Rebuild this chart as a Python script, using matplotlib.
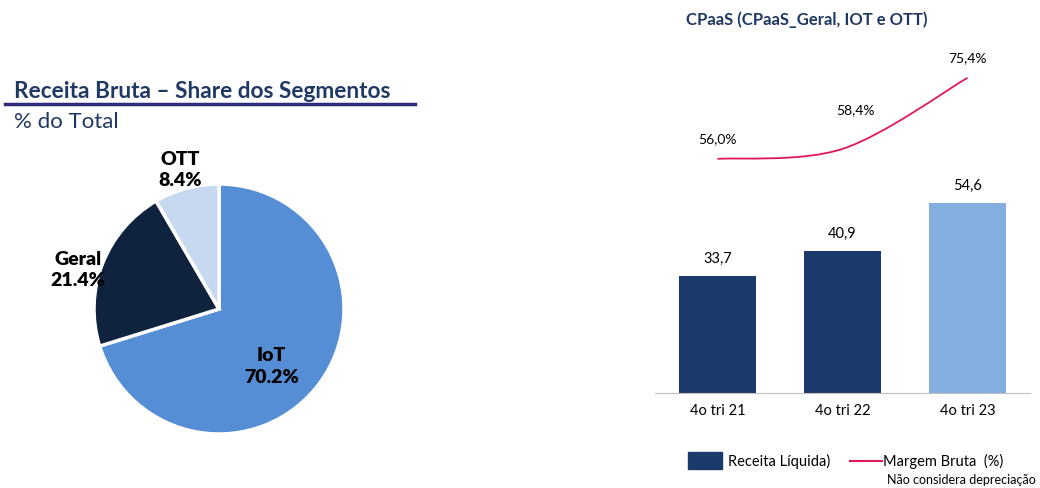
import matplotlib.pyplot as plt
from matplotlib.path import Path
from matplotlib.patches import PathPatch, Rectangle
from matplotlib.lines import Line2D

plt.rcParams['font.family'] = ['Lato', 'DejaVu Sans']

# dados do gráfico de pizza
segmentos = ['IoT', 'Geral', 'OTT']
share = [70.2, 21.4, 8.4]
share_labels = ['70.2%', '21.4%', '8.4%']

# dados do gráfico de barras + linha
trimestres = ['4o tri 21', '4o tri 22', '4o tri 23']
receita_liquida = [33.7, 40.9, 54.6]
receita_labels = ['33,7', '40,9', '54,6']
margem_bruta = [56.0, 58.4, 75.4]
margem_labels = ['56,0%', '58,4%', '75,4%']

AZUL_TITULO = '#1F3864'
cores_pizza = ['#558ED5', '#0F233F', '#C6D9F1']
cores_barras = ['#1B3A6B', '#1B3A6B', '#84ADE0']
COR_LINHA = '#E0185A'

fig = plt.figure(figsize=(10.4, 4.88), dpi=100)

# ---- título da esquerda ----
fig.text(14 / 1040, 1 - 92 / 488, 'Receita Bruta – Share dos Segmentos', fontsize=16.3,
         fontweight='bold', color=AZUL_TITULO, va='center', ha='left')
fig.add_artist(Line2D([5 / 1040, 415 / 1040], [1 - 104 / 488] * 2, color='#2E2A7A', lw=2.5))
fig.text(14 / 1040, 1 - 122 / 488, '% do Total', fontsize=16, color=AZUL_TITULO,
         va='center', ha='left')

# ---- pizza ----
ax_pie = fig.add_axes([94 / 1040, 54 / 488, 250 / 1040, 250 / 488])
ax_pie.pie(share, colors=cores_pizza, startangle=90, counterclock=False,
           wedgeprops=dict(edgecolor='white', linewidth=2.5))
ax_pie.set_xlim(-1, 1)
ax_pie.set_ylim(-1, 1)
pos_labels = [(0.42, -0.46), (-1.13, 0.31), (-0.31, 1.11)]
for nome, lab, (x, y) in zip(segmentos, share_labels, pos_labels):
    ax_pie.text(x, y, f'{nome}\n{lab}', ha='center', va='center', fontsize=14,
                fontweight='heavy', color='black', linespacing=1.3)

# ---- barras ----
fig.text(686 / 1040, 1 - 20 / 488, 'CPaaS (CPaaS_Geral, IOT e OTT)', fontsize=12,
         fontweight='bold', color=AZUL_TITULO, va='center', ha='left')

ax = fig.add_axes([655 / 1040, 95 / 488, 375 / 1040, 348 / 488])
x = list(range(len(trimestres)))
ax.bar(x, receita_liquida, width=0.62, color=cores_barras)
for xi, v, lab in zip(x, receita_liquida, receita_labels):
    ax.annotate(lab, (xi, v), xytext=(0, 12), textcoords='offset points',
                ha='center', va='center', fontsize=10.5)
ax.set_xlim(-0.5, 2.5)
ax.set_ylim(0, 100)
ax.set_xticks(x, trimestres, fontsize=10.5)
ax.tick_params(axis='x', length=0, pad=8)
ax.set_yticks([])
for s in ['top', 'right', 'left']:
    ax.spines[s].set_visible(False)
ax.spines['bottom'].set_color('#BFBFBF')

# linha suavizada (eixo secundário)
ax2 = ax.twinx()
ax2.set_ylim(0, 83.25)
ax2.set_axis_off()
pts = list(zip(x, margem_bruta))
verts = [pts[0]]
codes = [Path.MOVETO]
t = 1 / 6
for i in range(len(pts) - 1):
    p0 = pts[i - 1] if i > 0 else pts[i]
    p1, p2 = pts[i], pts[i + 1]
    p3 = pts[i + 2] if i + 2 < len(pts) else pts[i + 1]
    c1 = (p1[0] + (p2[0] - p0[0]) * t, p1[1] + (p2[1] - p0[1]) * t)
    c2 = (p2[0] - (p3[0] - p1[0]) * t, p2[1] - (p3[1] - p1[1]) * t)
    verts += [c1, c2, p2]
    codes += [Path.CURVE4] * 3
ax2.add_patch(PathPatch(Path(verts, codes), facecolor='none', edgecolor=COR_LINHA, lw=1.3))
offsets = [(0, 14), (9, 28), (0, 14)]
for xi, v, lab, off in zip(x, margem_bruta, margem_labels, offsets):
    ax2.annotate(lab, (xi, v), xytext=off, textcoords='offset points',
                 ha='center', va='center', fontsize=10)

# legenda
fig.add_artist(Rectangle((688 / 1040, 1 - 469 / 488), 34 / 1040, 17 / 488,
                         transform=fig.transFigure, color='#1B3A6B'))
fig.text(728 / 1040, 1 - 461 / 488, 'Receita Líquida)', fontsize=10.5, va='center', ha='left')
fig.add_artist(Line2D([850 / 1040, 882 / 1040], [1 - 461 / 488] * 2, color=COR_LINHA, lw=1.5))
fig.text(883 / 1040, 1 - 461 / 488, 'Margem Bruta  (%)', fontsize=10.5, va='center', ha='left')
fig.text(1036 / 1040, 1 - 480 / 488, 'Não considera depreciação', fontsize=9,
         va='center', ha='right')

fig.savefig('out.png', dpi=100)
